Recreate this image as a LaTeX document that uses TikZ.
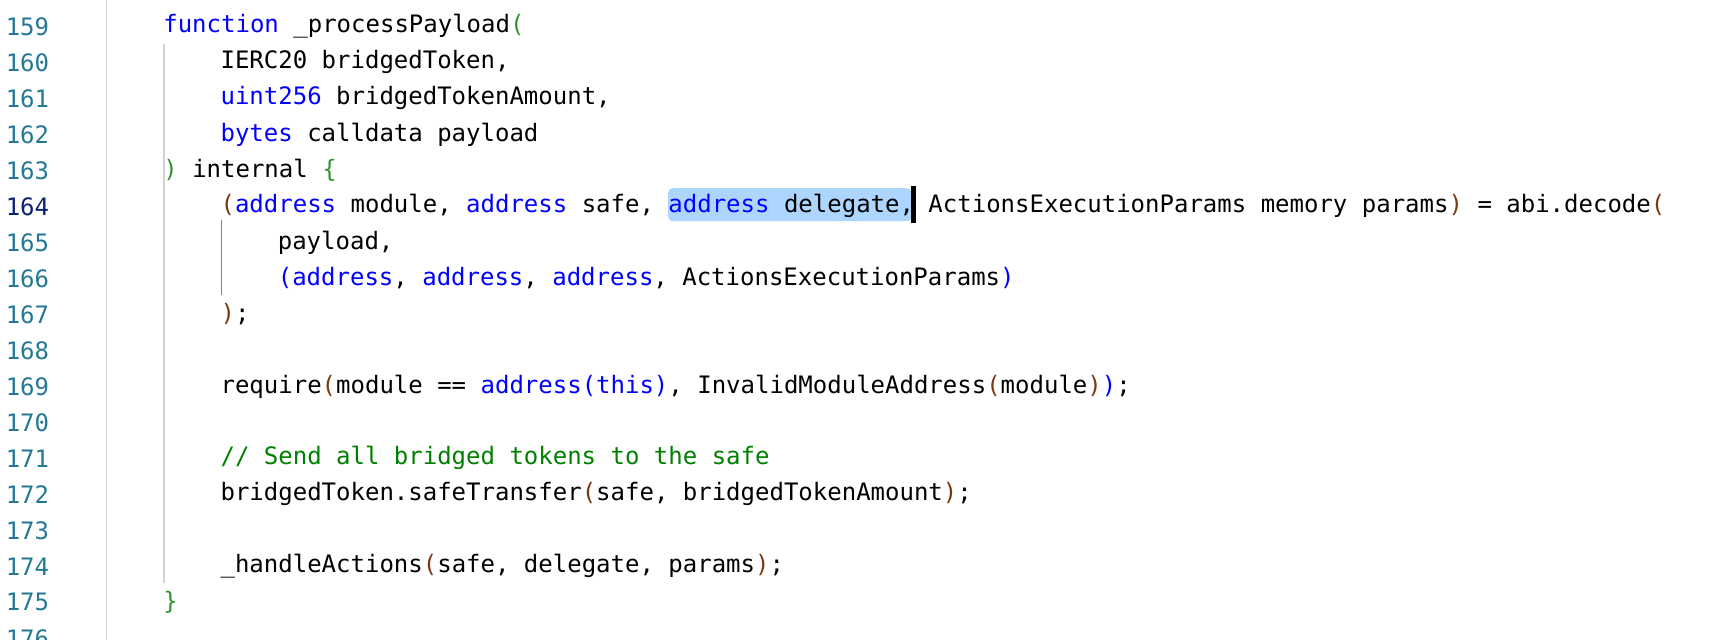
\documentclass[tikz,border=0pt]{standalone}
\usepackage{fontspec}
\setmonofont{DejaVu Sans Mono}
\usetikzlibrary{positioning}
\definecolor{KwBlue}{HTML}{0000FF}
\definecolor{BrGreen}{HTML}{319331}
\definecolor{BrBrown}{HTML}{7B3814}
\definecolor{CmGreen}{HTML}{008000}
\definecolor{NumTeal}{HTML}{237893}
\definecolor{NumActive}{HTML}{0B216F}
\definecolor{SelBlue}{HTML}{ADD6FF}
\definecolor{GuideGray}{HTML}{D3D3D3}
\newcommand{\kw}[1]{\textcolor{KwBlue}{#1}}
\newcommand{\bg}[1]{\textcolor{BrGreen}{#1}}
\newcommand{\bb}[1]{\textcolor{BrBrown}{#1}}
\newcommand{\cm}[1]{\textcolor{CmGreen}{#1}}
\begin{document}
\begin{tikzpicture}[x=0.5pt, y=-0.5pt,
    code/.style={anchor=west, inner sep=0pt, font=\ttfamily\fontsize{10.9}{12}\selectfont},
    lineno/.style={anchor=east, inner sep=0pt, text=NumTeal, font=\ttfamily\fontsize{10.9}{12}\selectfont}]
  \useasboundingbox (0,0) rectangle (1568,581);
  % gutter
  \draw[GuideGray, line width=0.6pt] (97,0) -- (97,581);
  \foreach \n in {159,...,176}{
    \node[lineno] (n\n) at (45,{24+(\n-159)*32.7}) {\n};
  }
  \node[lineno, text=NumActive, fill=white] at (45,{24+5*32.7}) {164};
  % indent guides
  \draw[GuideGray, line width=0.6pt] (149,40) -- (149,530);
  \draw[gray, line width=0.6pt] (201,200) -- (201,268);
  % selection and cursor
  \fill[SelBlue, rounded corners=2pt] (607,171) rectangle (828,201);
  \fill[black] (828,169) rectangle (832,203);
  % code
  \node[code] (l159) at (148,24) {\kw{function} \_processPayload\bg{(}};
  \node[code] (l160) at (200,{24+1*32.7}) {IERC20 bridgedToken,};
  \node[code] (l161) at (200,{24+2*32.7}) {\kw{uint256} bridgedTokenAmount,};
  \node[code] (l162) at (200,{24+3*32.7}) {\kw{bytes} calldata payload};
  \node[code] (l163) at (148,{24+4*32.7}) {\bg{)} internal \bg{\{}};
  \node[code] (l164) at (200,{24+5*32.7}) {\bb{(}\kw{address} module, \kw{address} safe, \kw{address} delegate, ActionsExecutionParams memory params\bb{)} = abi.decode\bb{(}};
  \node[code] (l165) at (252,{24+6*32.7}) {payload,};
  \node[code] (l166) at (252,{24+7*32.7}) {\kw{(address}, \kw{address}, \kw{address}, ActionsExecutionParams\kw{)}};
  \node[code] (l167) at (200,{24+8*32.7}) {\bb{)};};
  \node[code] (l169) at (200,{24+10*32.7}) {require\bb{(}module == \kw{address(this)}, InvalidModuleAddress\bb{(}module\bb{)}\kw{)};};
  \node[code] (l171) at (200,{24+12*32.7}) {\cm{// Send all bridged tokens to the safe}};
  \node[code] (l172) at (200,{24+13*32.7}) {bridgedToken.safeTransfer\bb{(}safe, bridgedTokenAmount\bb{)};};
  \node[code] (l174) at (200,{24+15*32.7}) {\_handleActions\bb{(}safe, delegate, params\bb{)};};
  \node[code] (l175) at (148,{24+16*32.7}) {\bg{\}}};
\end{tikzpicture}
\end{document}
